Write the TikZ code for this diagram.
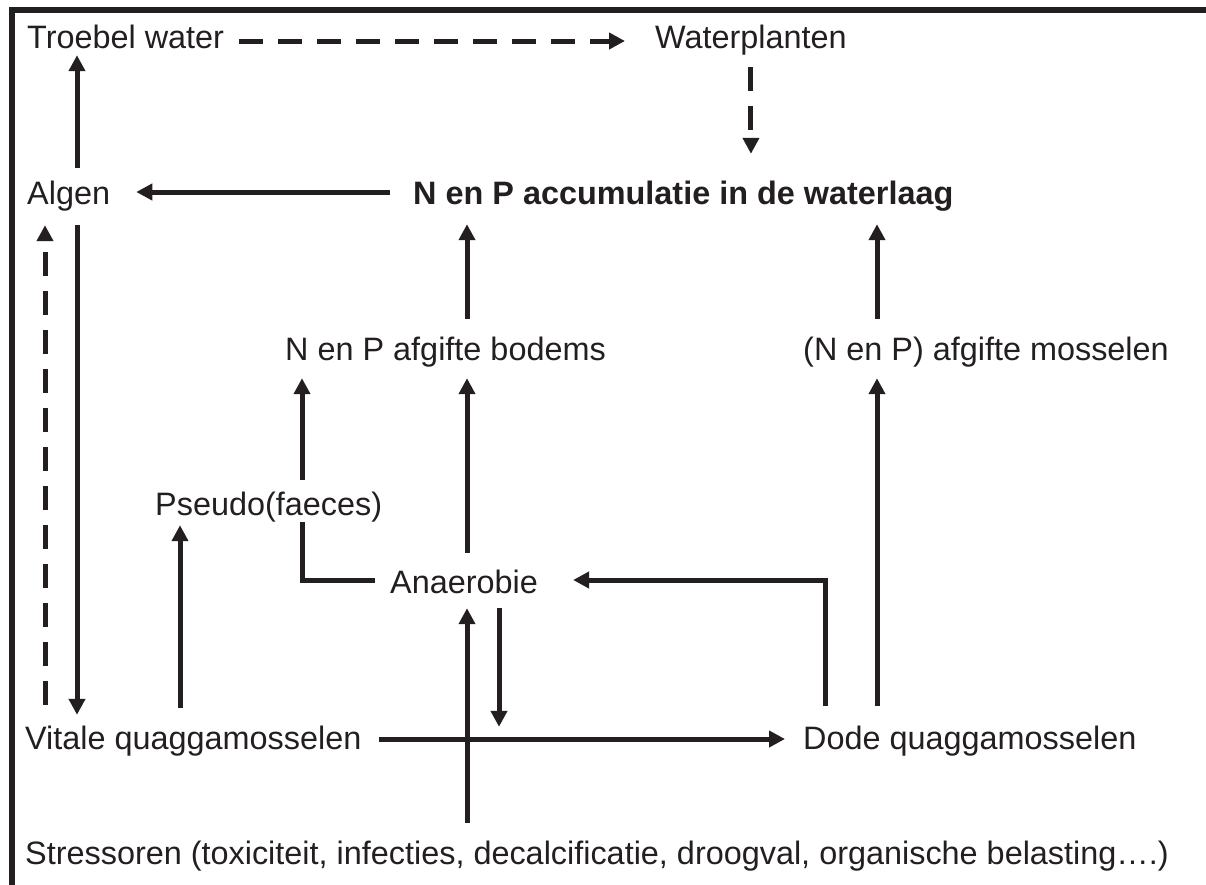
\documentclass[tikz,border=0pt]{standalone}
\usepackage{fontspec}
\setmainfont{Liberation Sans}
\usetikzlibrary{arrows.meta}
\definecolor{ink}{RGB}{35,31,32}
\begin{document}
\begin{tikzpicture}[x=1pt,y=-1pt,
  lbl/.style={font=\fontsize{32.4}{38}\selectfont, text=ink, inner sep=0pt, text height=23pt, text depth=7pt, anchor=base west},
  ln/.style={line width=5pt, draw=ink},
  arr/.style={ln, -{Triangle[length=16pt,width=16pt]}},
  darr/.style={arr, dash pattern=on 24pt off 15pt}]
\useasboundingbox (0,0) rectangle (1206,884);
\fill[white] (0,0) rectangle (1206,884);
\draw[line width=5.5pt, draw=ink] (12,900) -- (12,10) -- (1220,10);

\node[lbl] (troebel) at (27,48) {Troebel water};
\node[lbl] (water) at (655,48) {Waterplanten};
\node[lbl] (algen) at (27,204) {Algen};
\node[lbl, font=\fontsize{32.4}{38}\selectfont\bfseries] (acc) at (413,204) {N en P accumulatie in de waterlaag};
\node[lbl] (bod) at (285,360) {N en P afgifte bodems};
\node[lbl] (mos) at (803,360) {(N en P) afgifte mosselen};
\node[lbl] (pseudo) at (155,515) {Pseudo(faeces)};
\node[lbl] (anae) at (390,593) {Anaerobie};
\node[lbl] (vitale) at (25,749) {Vitale quaggamosselen};
\node[lbl] (dode) at (803,749) {Dode quaggamosselen};
\node[lbl] (stress) at (25,864) {Stressoren (toxiciteit, infecties, decalcificatie, droogval, organische belasting\ldots.)};

\draw[darr, shorten <=15pt, shorten >=30pt] ([yshift=-1pt]troebel.east) -- ([yshift=-1pt]water.west);
\draw[darr, shorten <=12pt, shorten >=27pt] (water.south) -- (water.south |- acc.north);
\draw[arr, shorten <=23pt, shorten >=26pt] ([yshift=4pt]acc.west) -- ([yshift=4pt]algen.east);
\draw[arr, shorten <=13pt] (77,0 |- algen.north) -- (77,0 |- troebel.south);
\draw[arr, shorten <=14pt, shorten >=11pt] (77,0 |- algen.south) -- (77,0 |- vitale.north);
\draw[darr, shorten <=21pt, shorten >=14pt] (45,0 |- vitale.north) -- (45,0 |- algen.south);
\draw[arr, shorten <=18pt, shorten >=13pt] (467,0 |- bod.north) -- (467,0 |- acc.south);
\draw[arr, shorten <=18pt, shorten >=13pt] (877,0 |- mos.north) -- (877,0 |- acc.south);
\draw[arr, shorten <=20pt, shorten >=11pt] (877,0 |- dode.north) -- (877,0 |- mos.south);
\draw[arr, shorten <=17pt, shorten >=11pt] (467,0 |- anae.north) -- (467,0 |- bod.south);
\draw[ln, shorten <=15pt] ([yshift=5pt]anae.west) -| (302,0 |- pseudo.south);
\draw[arr, shorten <=12pt, shorten >=11pt] (302,0 |- pseudo.north) -- (302,0 |- bod.south);
\draw[arr, shorten <=18pt, shorten >=3pt] (180,0 |- vitale.north) -- (180,0 |- pseudo.south);
\draw[arr, shorten <=18pt, shorten >=8pt] (467,0 |- stress.north) -- (467,0 |- anae.south);
\draw[arr, shorten <=8pt, shorten >=-1pt] (499,0 |- anae.south) -- (499,0 |- vitale.north);
\draw[arr, shorten <=17pt, shorten >=18pt] ([yshift=2pt]vitale.east) -- ([yshift=2pt]dode.west);
\draw[arr, shorten <=20pt, shorten >=35pt] (825,0 |- dode.north) |- ([yshift=5pt]anae.east);
\end{tikzpicture}
\end{document}
